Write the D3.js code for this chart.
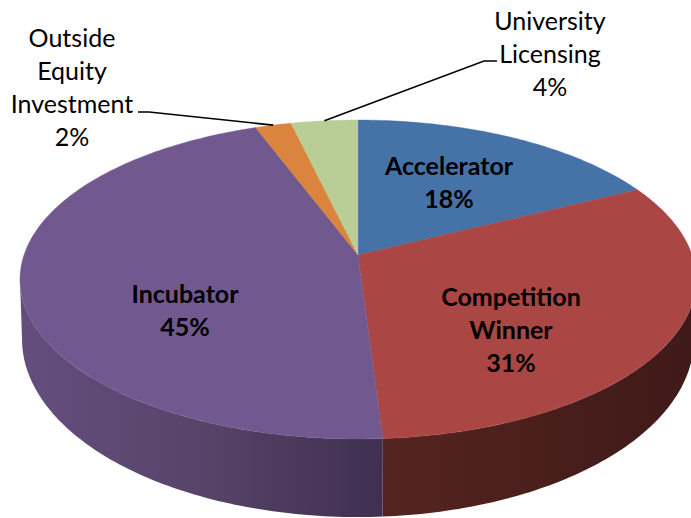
<!DOCTYPE html>
<html>
<head>
<meta charset="utf-8">
<script src="https://cdnjs.cloudflare.com/ajax/libs/d3/7.8.5/d3.min.js"></script>
<style>
  html, body { margin: 0; padding: 0; background: #fff; overflow: hidden; }
  text { font-family: Lato, "Open Sans", sans-serif; fill: #000; }
</style>
</head>
<body>
<script>
// Data read off the picture. Shares are the slice sizes as measured,
// the printed labels are the rounded percentages.
const categories = ["Accelerator", "Competition Winner", "Incubator", "Outside Equity Investment", "University Licensing"];
const shares = [17.6, 31.4, 45.3, 2.0, 3.7];
const topColors = ["#4572a7", "#aa4643", "#71588f", "#db843d", "#b9cd96"];
const labelLines = [
  ["Accelerator", "18%"],
  ["Competition", "Winner", "31%"],
  ["Incubator", "45%"],
  ["Outside", "Equity", "Investment", "2%"],
  ["University", "Licensing", "4%"],
];

const width = 691;
const height = 518;
const lineHeight = 33;

// Perspective tilt of the disc, same for rim and floor.
const tilt = 0.1536;
const top_rim = { cx: 358, cy: 255, a: 334, b: 155.7 };
const bottom_rim = { cx: 358, cy: 311.7, a: 332, b: 173.8 };

function project(rim, angle) {
  const u = Math.sin(angle);
  const v = Math.cos(angle);
  const w = 1 + tilt * v;
  return [rim.cx + (rim.a * u) / w, rim.cy - (rim.b * v) / w];
}

function rimPoints(rim, from, to) {
  const n = Math.ceil(Math.abs(to - from) * 60);
  const angle = d3.scaleLinear().domain([0, n]).range([from, to]);
  return d3.range(n + 1).map((i) => project(rim, angle(i)));
}

const svg = d3
  .select("body")
  .append("svg")
  .attr("width", width)
  .attr("height", height);

const arcs = d3.pie().sort(null).value((d) => d)(shares);
const lineGen = d3.line();

// Angles where the rim turns back, the wall stops there.
const rightEdge = Math.acos(-tilt);
const leftEdge = 2 * Math.PI - rightEdge;

// Side wall, shade runs left to right.
const wallShade = [
  { id: "wall-purple", arc: arcs[2], x1: 20, x2: 383, stops: ["#644e7e", "#574469", "#3f2f50"] },
  { id: "wall-red", arc: arcs[1], x1: 383, x2: 691, stops: ["#552420", "#4a1f1c", "#3f1a18"] },
];

const defs = svg.append("defs");
wallShade.forEach((w) => {
  const grad = defs
    .append("linearGradient")
    .attr("id", w.id)
    .attr("gradientUnits", "userSpaceOnUse")
    .attr("x1", w.x1)
    .attr("x2", w.x2)
    .attr("y1", 0)
    .attr("y2", 0);
  w.stops.forEach((c, i) => {
    grad
      .append("stop")
      .attr("offset", i / (w.stops.length - 1))
      .attr("stop-color", c);
  });
});

svg
  .append("g")
  .attr("class", "wall")
  .selectAll("path")
  .data(wallShade)
  .enter()
  .append("path")
  .attr("d", (w) => {
    const from = Math.max(w.arc.startAngle, rightEdge);
    const to = Math.min(w.arc.endAngle, leftEdge);
    return lineGen([...rimPoints(top_rim, from, to), ...rimPoints(bottom_rim, to, from)]) + "Z";
  })
  .attr("fill", (w) => `url(#${w.id})`);

// Top face.
svg
  .append("g")
  .attr("class", "slices")
  .selectAll("path")
  .data(arcs)
  .enter()
  .append("path")
  .attr("d", (d) => {
    const pts = rimPoints(top_rim, d.startAngle, d.endAngle);
    return lineGen([[top_rim.cx, top_rim.cy], ...pts]) + "Z";
  })
  .attr("fill", (d) => topColors[d.index])
  .attr("stroke", (d) => topColors[d.index])
  .attr("stroke-width", 0.4);

// Leader lines for the two outside labels.
const leaders = [
  { index: 3, path: [[138, 112], [149, 112]] },
  { index: 4, path: [[497, 61], [484, 61]] },
];
svg
  .append("g")
  .attr("class", "leaders")
  .selectAll("path")
  .data(leaders)
  .enter()
  .append("path")
  .attr("d", (d) => {
    const a = arcs[d.index];
    return lineGen([...d.path, project(top_rim, (a.startAngle + a.endAngle) / 2)]);
  })
  .attr("fill", "none")
  .attr("stroke", "#000")
  .attr("stroke-width", 1.6);

// Labels.
const labelSpot = [
  { x: 449, y: 166, bold: true },
  { x: 511, y: 297, bold: true },
  { x: 185, y: 294, bold: true },
  { x: 72, y: 38, bold: false },
  { x: 550, y: 21, bold: false },
];

const labels = svg
  .append("g")
  .attr("class", "labels")
  .selectAll("text")
  .data(labelLines)
  .enter()
  .append("text")
  .attr("text-anchor", "middle")
  .attr("font-size", 25)
  .attr("font-weight", (d, i) => (labelSpot[i].bold ? 700 : 400))
  .attr("aria-label", (d, i) => categories[i]);

labels
  .selectAll("tspan")
  .data((d, i) => d.map((line, j) => ({ line, j, spot: labelSpot[i] })))
  .enter()
  .append("tspan")
  .attr("x", (d) => d.spot.x)
  .attr("y", (d) => d.spot.y + d.j * lineHeight)
  .attr("dy", "0.35em")
  .text((d) => d.line);
</script>
</body>
</html>
